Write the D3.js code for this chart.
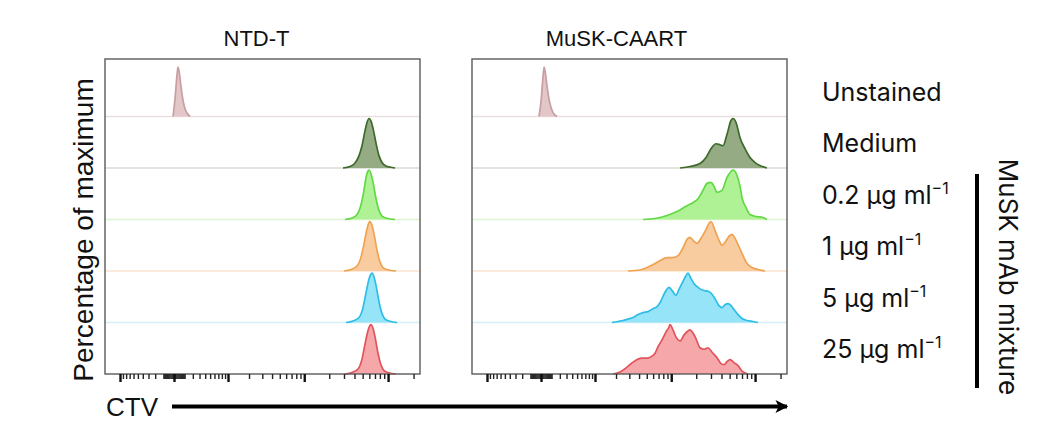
<!DOCTYPE html>
<html><head><meta charset="utf-8">
<script src="https://cdn.jsdelivr.net/npm/d3@7"></script>
<style>body{margin:0;background:#fff}</style>
</head><body><svg id="c" width="1063" height="448"></svg>
<script>
// ---------- data ----------
const panels = ["NTD-T", "MuSK-CAART"];
const conditions = ["Unstained", "Medium", "0.2", "1", "5", "25"];
const conditionLabels = ["Unstained", "Medium", "0.2 µg ml", "1 µg ml", "5 µg ml", "25 µg ml"];
const conditionSup = ["", "", "−1", "−1", "−1", "−1"];
const groupLabel = "MuSK mAb mixture";
const yLabel = "Percentage of maximum";
const xLabel = "CTV";

// histograms: [CTV intensity, % of maximum]
const ntdUnstained = [[-8,0],[8,35],[26,85],[34,100],[44,92],[63,60],[83,33],[104,16],[127,7],[163,0]];
const ntdMedium = [[29200,0],[35400,3],[40600,10],[45300,25],[49100,45],[53300,75],[56300,92],[59500,100],[62800,95],[66400,80],[72000,50],[78100,25],[84800,11],[94600,4],[105000,2],[121000,0]];
const ntd02 = [[30900,0],[37400,3],[42900,10],[47800,30],[51900,60],[54800,85],[57900,98],[59500,100],[62800,92],[66400,75],[72000,42],[78100,18],[84800,7],[94600,3],[105000,1],[121000,0]];
const ntd1 = [[30000,0],[36400,3],[42900,10],[47800,28],[51900,55],[56300,85],[59500,98],[61100,100],[64600,92],[68200,75],[74000,42],[80300,18],[87100,7],[97200,3],[108000,1],[124000,0]];
const ntd5 = [[31700,0],[38400,3],[45300,10],[50500,30],[54800,60],[59500,88],[62800,98],[64600,100],[68200,92],[72000,75],[78100,42],[84800,18],[92000,7],[103000,3],[114000,1],[128000,0]];
const ntd25 = [[30900,0],[37400,3],[44100,10],[49100,30],[53300,60],[57900,88],[61100,98],[62800,100],[66400,92],[70100,75],[76000,42],[82500,18],[89600,7],[99900,3],[111000,1],[124000,0]];

const caartUnstained = [[-17,0],[0,30],[17,80],[26,100],[34,93],[53,62],[73,35],[94,18],[116,8],[163,0]];
const caartMedium = [[12800,0],[16800,3],[22200,9],[26200,21],[30000,39],[34400,49],[38400,47],[41700,45],[46500,68],[51900,96],[54800,100],[59500,92],[66400,61],[76000,39],[87100,21],[99900,11],[114000,5],[138000,0]];
const caart02 = [[4490,0],[6330,2],[8880,8],[11700,16],[15500,28],[18300,34],[21000,42],[24100,59],[26900,73],[30000,75],[32600,67],[35400,55],[40600,59],[46500,85],[51900,97],[54800,100],[61100,89],[66400,67],[70100,44],[78100,24],[87100,10],[103000,6],[124000,4],[138000,0]];
const caart1 = [[2880,0],[4110,2],[5030,7],[6330,15],[7290,21],[8880,27],[10500,27],[12100,31],[13900,47],[15500,64],[16800,68],[18800,60],[20400,56],[22800,66],[25500,80],[28400,96],[30000,100],[33500,82],[37400,62],[40600,52],[44100,58],[49100,70],[53300,74],[57900,66],[64600,49],[72000,31],[80300,15],[92000,7],[108000,3],[131000,0]];
const caart5 = [[1760,0],[2130,2],[2480,4],[2880,7],[3350,10],[3880,16],[4490,20],[5180,22],[5980,28],[6700,32],[7290,40],[8400,61],[9390,71],[10200,65],[11400,55],[12400,67],[13500,79],[15100,95],[15900,100],[17300,89],[18800,79],[21000,71],[24100,65],[27700,63],[30900,57],[33500,48],[37400,34],[40600,30],[44100,36],[47800,38],[51900,34],[56300,26],[62800,16],[70100,8],[80300,4],[94600,2],[108000,0]];
const caart25 = [[1820,0],[2260,4],[2800,14],[3350,24],[3880,30],[4360,32],[5180,32],[5810,36],[6330,42],[6890,55],[7720,69],[8640,85],[9390,95],[9660,100],[10500,89],[11400,75],[12800,67],[14300,79],[15900,87],[16800,89],[18300,83],[19900,71],[22200,53],[24800,50],[27700,53],[30900,44],[35400,33],[39500,21],[42900,19],[46500,25],[50500,29],[56300,23],[62800,17],[70100,6],[82500,0]];

const histograms = [
  [ntdUnstained, ntdMedium, ntd02, ntd1, ntd5, ntd25],
  [caartUnstained, caartMedium, caart02, caart1, caart5, caart25]
];

const fills   = ["#e2c3c5", "#8ea77c", "#aaf18f", "#f8c99a", "#90e3f7", "#f5a2a5"];
const strokes = ["#c89ea2", "#3e6a2b", "#62d843", "#f0a253", "#2dbde6", "#e2535c"];
const baseCols = ["#eadfe0", "#d9dcd4", "#def5d4", "#fbe4d0", "#d3eff8", "#f9d9da"];

const majorTicks = [-1000, 0, 1000, 10000, 100000];
const minorTicks = [];
[10, 100].forEach(d => { for (let k = 1; k <= 9; k++) { minorTicks.push(-k * d); } });
[10, 100, 1000, 10000].forEach(d => { for (let k = 1; k <= 9; k++) { if (k * d !== 1000 && k * d !== 10000) minorTicks.push(k * d); } });
minorTicks.push(200000);

// ---------- layout ----------
const svg = d3.select("#c");
const panelLeft = [105, 472];
const titleShift = [-6, -13];
const panelW = 315;
const plotTop = 59, plotBottom = 374;
const rowH = 51.5;
const peakH = 49.5;

const x = d3.scaleSymlog().constant(300).domain([-1653, 238300]).range([0, panelW]);
const rows = d3.scaleBand().domain(conditions).range([plotBottom - rowH * conditions.length, plotBottom]).paddingInner(0);
const yPct = d3.scaleLinear().domain([0, 100]).range([0, -peakH]);

panels.forEach((p, pi) => {
  const g = svg.append("g").attr("transform", `translate(${panelLeft[pi]},0)`);
  conditions.forEach((c, ci) => {
    const b = rows(c) + rows.bandwidth();
    if (ci < conditions.length - 1)
      g.append("line").attr("x1", 0).attr("x2", panelW).attr("y1", b).attr("y2", b)
        .attr("stroke", baseCols[ci]).attr("stroke-width", 1.6);
  });
  conditions.forEach((c, ci) => {
    const b = rows(c) + rows.bandwidth();
    const data = histograms[pi][ci];
    const area = d3.area().x(d => x(d[0])).y0(b).y1(d => b + yPct(d[1])).curve(d3.curveMonotoneX);
    const line = d3.line().x(d => x(d[0])).y(d => b + yPct(d[1])).curve(d3.curveMonotoneX);
    g.append("path").datum(data).attr("d", area).attr("fill", fills[ci]).attr("fill-opacity", 0.95);
    g.append("path").datum(data).attr("d", line).attr("fill", "none").attr("stroke", strokes[ci])
      .attr("stroke-width", 1.7).attr("stroke-linejoin", "round");
  });
  g.append("rect").attr("x", 0).attr("y", plotTop).attr("width", panelW).attr("height", plotBottom - plotTop)
    .attr("fill", "none").attr("stroke", "#5a5a5a").attr("stroke-width", 1.4);
  const minorAxis = d3.axisBottom(x).tickValues(minorTicks).tickSize(5).tickFormat("");
  const majorAxis = d3.axisBottom(x).tickValues(majorTicks).tickSize(8).tickFormat("");
  const ga = g.append("g").attr("transform", `translate(0,${plotBottom})`).call(minorAxis);
  ga.select(".domain").remove();
  ga.selectAll("line").attr("stroke", "#222").attr("stroke-width", 1.4);
  const gb = g.append("g").attr("transform", `translate(0,${plotBottom})`).call(majorAxis);
  gb.select(".domain").remove();
  gb.selectAll("line").attr("stroke", "#111").attr("stroke-width", 2.4);
  svg.append("text").attr("x", panelLeft[pi] + panelW / 2 + titleShift[pi]).attr("y", 46)
    .attr("text-anchor", "middle").attr("font-family", "Liberation Sans, Arial, sans-serif")
    .attr("font-size", 22).attr("fill", "#111").text(p);
});

conditions.forEach((c, ci) => {
  const cy = rows(c) + rows.bandwidth() - 25;
  const t = svg.append("text").attr("x", 822).attr("y", cy).attr("dy", "0.36em")
    .attr("font-family", "Inter, Roboto, sans-serif").attr("font-size", 25).attr("fill", "#111");
  t.append("tspan").text(conditionLabels[ci]);
  if (conditionSup[ci]) t.append("tspan").attr("dy", -10).attr("font-size", 16).text(conditionSup[ci]);
});

svg.append("line").attr("x1", 977).attr("x2", 977).attr("y1", rows("0.2") + 6).attr("y2", 388)
  .attr("stroke", "#000").attr("stroke-width", 4);
svg.append("text").attr("transform", `translate(999,277) rotate(90)`).attr("text-anchor", "middle")
  .attr("font-family", "Inter, Roboto, sans-serif").attr("font-size", 26).attr("fill", "#111").text(groupLabel);

svg.append("text").attr("transform", `translate(93,230) rotate(-90)`).attr("text-anchor", "middle")
  .attr("font-family", "Liberation Sans, Arial, sans-serif").attr("font-size", 28).attr("fill", "#111").text(yLabel);

svg.append("text").attr("x", 106).attr("y", 416).attr("font-family", "Liberation Sans, Arial, sans-serif")
  .attr("font-size", 26).attr("fill", "#111").text(xLabel);
svg.append("defs").append("marker").attr("id", "ah").attr("viewBox", "0 0 10 10").attr("refX", 9).attr("refY", 5)
  .attr("markerWidth", 4.5).attr("markerHeight", 3.2).attr("orient", "auto").attr("markerUnits", "strokeWidth")
  .append("path").attr("d", "M0,0 L10,5 L0,10 L2.5,5 Z").attr("fill", "#000");
svg.append("line").attr("x1", 172).attr("x2", 787).attr("y1", 406.5).attr("y2", 406.5)
  .attr("stroke", "#000").attr("stroke-width", 4).attr("marker-end", "url(#ah)");
</script></body></html>
